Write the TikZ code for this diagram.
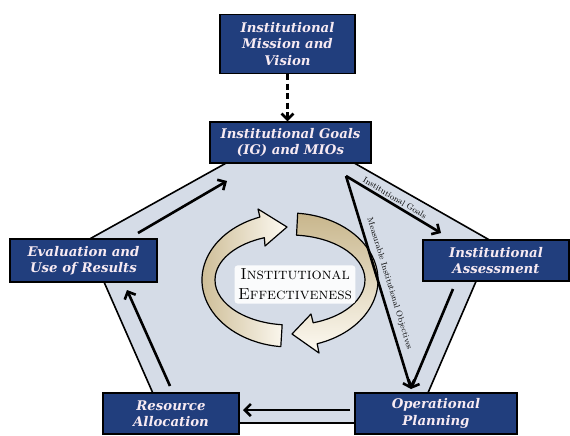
\documentclass[tikz,border=0pt]{standalone}
\usepackage{fontspec}
\newfontfamily\boxfont{DejaVu Serif}
\usetikzlibrary{arrows.meta,calc}
\definecolor{boxblue}{RGB}{33,62,125}
\definecolor{boxtext}{RGB}{247,234,242}
\definecolor{pentfill}{RGB}{213,220,231}
\definecolor{ringtan}{RGB}{200,182,140}
\definecolor{ringlight}{RGB}{253,250,242}
\begin{document}
\begin{tikzpicture}[x=1pt,y=-1pt,
  blk/.style={draw=black, line width=1.2pt, fill=boxblue, text=boxtext,
    font=\boxfont\bfseries\itshape\fontsize{13.3}{16.5}\selectfont, align=center, inner sep=0pt},
  flow/.style={line width=2.6pt, -{Straight Barb[length=6pt,width=12pt]}},
  pent/.style={draw=black, line width=1.6pt, fill=pentfill, line join=miter},
  ring/.style={draw=black, line width=1.2pt, line join=round},
  lbl/.style={font=\fontsize{8.3}{9}\selectfont, inner sep=1pt}]
\useasboundingbox (0,0) rectangle (570,436);
% pentagon background
\draw[pent] (291,127) -- (493,242) -- (415,423) -- (166,423) -- (86,241) -- cycle;
% ring arrows
\coordinate (C) at (290,280);
\draw[ring, left color=ringtan, right color=ringlight]
  ($(C)+(96:75 and 45)$) arc[start angle=96, end angle=250, x radius=75, y radius=45]
  -- (265,246) -- (287,227) -- (258,209)
  -- ($(C)+(250:88 and 67)$) arc[start angle=250, end angle=96, x radius=88, y radius=67] -- cycle;
\draw[ring, top color=ringtan, bottom color=ringlight]
  ($(C)+(275:75 and 45)$) arc[start angle=275, end angle=432, x radius=75, y radius=45]
  -- (311,314) -- (292,334) -- (319,353)
  -- ($(C)+(432:88 and 67)$) arc[start angle=432, end angle=275, x radius=88, y radius=67] -- cycle;
% center label
\node[fill=white, fill opacity=0.9, text opacity=1, rounded corners=3pt, inner sep=3.5pt,
  align=center, font=\fontsize{16}{20}\selectfont] (ie) at (295,284.5)
  {\textsc{Institutional}\\\textsc{Effectiveness}};
% boxes
\node[blk, minimum width=135pt, minimum height=59pt] (mission) at (287.5,44) {Institutional\\Mission and\\Vision};
\node[blk, minimum width=161pt, minimum height=41pt] (goals) at (290.5,142.5) {Institutional Goals\\(IG) and MIOs};
\node[blk, minimum width=146pt, minimum height=41pt] (assess) at (496,260.5) {Institutional\\Assessment};
\node[blk, minimum width=147pt, minimum height=43pt] (eval) at (83.5,260.5) {Evaluation and\\Use of Results};
\node[blk, minimum width=136pt, minimum height=41pt] (res) at (171,413.5) {Resource\\Allocation};
\node[blk, minimum width=162pt, minimum height=41pt] (op) at (436,413.5) {Operational\\Planning};
% connector end points
\coordinate (gsplit) at (346,176);
\coordinate (iaend) at (441,233);
\coordinate (opend) at (411,389);
\coordinate (iastart) at (453,289);
\coordinate (opstart) at (350,410);
\coordinate (resend) at (243,410);
\coordinate (resstart) at (170,386);
\coordinate (evend) at (127,290);
\coordinate (evstart) at (138,233);
\coordinate (goend) at (227,181);
% connectors
\draw[line width=2.6pt, dash pattern=on 6pt off 3.5pt, -{Straight Barb[length=6pt,width=12pt]}]
  (mission.south) -- (mission.south |- goals.north);
\draw[flow] (gsplit) -- node[sloped, above=1pt, pos=0.48, lbl] {Institutional Goals} (iaend);
\draw[flow] (gsplit) -- node[sloped, above=4pt, pos=0.52, lbl] {Measurable Institutional Objectives} (opend);
\draw[flow] (iastart) -- (opend);
\draw[flow] (opstart) -- (resend);
\draw[flow] (resstart) -- (evend);
\draw[flow] (evstart) -- (goend);
\end{tikzpicture}
\end{document}
